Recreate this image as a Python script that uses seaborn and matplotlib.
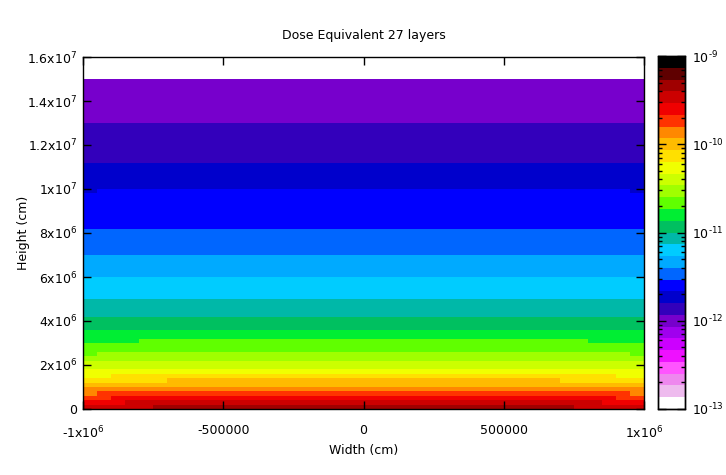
import numpy as np
import pandas as pd
import matplotlib
matplotlib.use("Agg")
import matplotlib.pyplot as plt
import seaborn as sns
from matplotlib.colors import ListedColormap

# ---------------- data ----------------
title = "Dose Equivalent 27 layers"
x_label = "Width (cm)"
y_label = "Height (cm)"

# centres of the height bins, in units of 1e6 cm (bins are 0.2e6 cm tall)
height_bins = [round(0.1 + 0.2 * i, 1) for i in range(75)]
# centres of the width bins, in units of 1e6 cm (bins are 0.05e6 cm wide)
width_bins = [round(-0.975 + 0.05 * j, 3) for j in range(40)]

# log10 of the dose equivalent along the centre of the domain (one value per height bin)
dose_exponent_centre = [
    -9.33, -9.45, -9.58, -9.70, -9.83, -9.95, -10.04, -10.15, -10.25, -10.34,
    -10.41, -10.48, -10.56, -10.62, -10.67, -10.72, -10.77, -10.82, -10.87, -10.91,
    -10.96, -11.01, -11.03, -11.07, -11.10, -11.14, -11.16, -11.19, -11.22, -11.25,
    -11.28, -11.30, -11.33, -11.35, -11.38, -11.41, -11.43, -11.45, -11.47, -11.50,
    -11.52, -11.54, -11.56, -11.57, -11.59, -11.60, -11.62, -11.63, -11.65, -11.66,
    -11.68, -11.70, -11.73, -11.75, -11.77, -11.79, -11.81, -11.82, -11.84, -11.85,
    -11.86, -11.88, -11.89, -11.91, -11.92, -11.94, -11.95, -11.96, -11.97, -11.98,
    -11.99, -12.00, -12.01, -12.02, -12.03,
]
# drop of log10 dose towards the lateral edges (one value per height bin)
edge_drop = [
    0.25, 0.20, 0.17, 0.16, 0.13, 0.11, 0.10, 0.10, 0.09, 0.08,
    0.07, 0.06, 0.06, 0.05, 0.04, 0.04, 0.03, 0.03, 0.03, 0.03,
    0.03, 0.02, 0.02, 0.02, 0.02, 0.02, 0.02, 0.02, 0.02, 0.01,
    0.01, 0.01, 0.01, 0.01, 0.01, 0.01, 0.01, 0.01, 0.01, 0.01,
    0.01, 0.01, 0.01, 0.01, 0.01, 0.01, 0.01, 0.01, 0.01, 0.01,
    0.01, 0.01, 0.01, 0.01, 0.01, 0.01, 0.01, 0.01, 0.01, 0.01,
    0.01, 0.01, 0.01, 0.01, 0.01, 0.01, 0.01, 0.01, 0.01, 0.01,
    0.01, 0.01, 0.01, 0.01, 0.01,
]
# lateral profile of that drop across the width bins
width_shape = [
    0.68, 0.57, 0.48, 0.40, 0.33, 0.27, 0.22, 0.18, 0.14, 0.11,
    0.09, 0.07, 0.05, 0.04, 0.03, 0.02, 0.01, 0.01, 0.00, 0.00,
    0.00, 0.00, 0.01, 0.01, 0.02, 0.03, 0.04, 0.05, 0.07, 0.09,
    0.11, 0.14, 0.18, 0.22, 0.27, 0.33, 0.40, 0.48, 0.57, 0.68,
]

# 30-step palette, low -> high
palette = [
    "#ffffff", "#eebbee", "#ee88ee", "#ff55ff", "#ee11ff", "#cc00ff", "#a000ee",
    "#7700cc", "#3300bb", "#0000cc", "#0000ff", "#0066ff", "#00aaff", "#00ccff",
    "#00b8a8", "#00c060", "#00ee33", "#60ff00", "#a0ff00", "#ccff00", "#f0ff00",
    "#ffe000", "#ffbb00", "#ff8800", "#ff3300", "#f00000", "#cc0000", "#a00000",
    "#5f0000", "#000000",
]
cbar_exponents = [-13, -12, -11, -10, -9]

x_ticks = [-1.0, -0.5, 0.0, 0.5, 1.0]
x_ticklabels = ["-1x10$^{6}$", "-500000", "0", "500000", "1x10$^{6}$"]
y_ticks = [0, 2, 4, 6, 8, 10, 12, 14, 16]
y_ticklabels = ["0", "2x10$^{6}$", "4x10$^{6}$", "6x10$^{6}$", "8x10$^{6}$",
                "1x10$^{7}$", "1.2x10$^{7}$", "1.4x10$^{7}$", "1.6x10$^{7}$"]

# ---------------- build the grid ----------------
centre = np.array(dose_exponent_centre)[:, None]
drop = np.array(edge_drop)[:, None]
shape = np.array(width_shape)[None, :]
grid = centre - drop * shape  # rows: height bins (bottom -> top)
empty = np.full((5, len(width_bins)), np.nan)  # 1.5e7 .. 1.6e7 (no data)
full = np.vstack([grid, empty])[::-1]  # top row first for heatmap
row_labels = height_bins + [15.1, 15.3, 15.5, 15.7, 15.9]
df = pd.DataFrame(full, index=row_labels[::-1], columns=width_bins)

# ---------------- figure ----------------
plt.rcParams["font.family"] = ["DejaVu Sans"]
fig = plt.figure(figsize=(7.26, 4.75), dpi=100)
ax = fig.add_axes([83 / 726, 1 - 409 / 475, (644 - 83) / 726, (409 - 57) / 475])
cax = fig.add_axes([658 / 726, 1 - 409 / 475, (685 - 658) / 726, (409 - 56) / 475])

cmap = ListedColormap(palette)
sns.heatmap(df, ax=ax, cmap=cmap, vmin=-13, vmax=-9, cbar=True, cbar_ax=cax,
            xticklabels=False, yticklabels=False, linewidths=0)

ncol = len(width_bins)
nrow = len(row_labels)
col_per_unit = ncol / 2.0
row_per_unit = nrow / 16.0

for s in ax.spines.values():
    s.set_visible(True)
    s.set_color("black")
    s.set_linewidth(1.0)

ax.set_xticks([(v + 1.0) * col_per_unit for v in x_ticks])
ax.set_xticklabels(x_ticklabels, rotation=0)
ax.set_yticks([(16 - v) * row_per_unit for v in y_ticks])
ax.set_yticklabels(y_ticklabels, rotation=0)
ax.set_xlim(0, ncol)
ax.set_ylim(nrow, 0)
ax.tick_params(axis="both", which="major", direction="in", length=6, width=1,
               top=True, right=True, labelsize=9, colors="black")
ax.tick_params(axis="x", pad=11)
ax.tick_params(axis="y", pad=4)
ax.set_xlabel(x_label, fontsize=9, labelpad=2)
ax.set_ylabel(y_label, fontsize=9, labelpad=-2)
ax.set_title(title, fontsize=9, pad=13)

# colorbar styling
cax.set_yticks(cbar_exponents)
cax.set_yticklabels([r"10$^{\text{-}%d}$" % (-e) for e in cbar_exponents])
minor = [e + np.log10(k) for e in cbar_exponents[:-1] for k in range(2, 10)]
cax.set_yticks(minor, minor=True)
cax.tick_params(which="major", direction="in", length=6, width=1, left=True,
                right=True, labelsize=9, pad=5)
cax.tick_params(which="minor", direction="in", length=3, width=1, left=True,
                right=True)
for s in cax.spines.values():
    s.set_visible(True)
    s.set_color("black")
    s.set_linewidth(1.0)
cax.set_frame_on(True)

fig.savefig("out.png", dpi=100)
